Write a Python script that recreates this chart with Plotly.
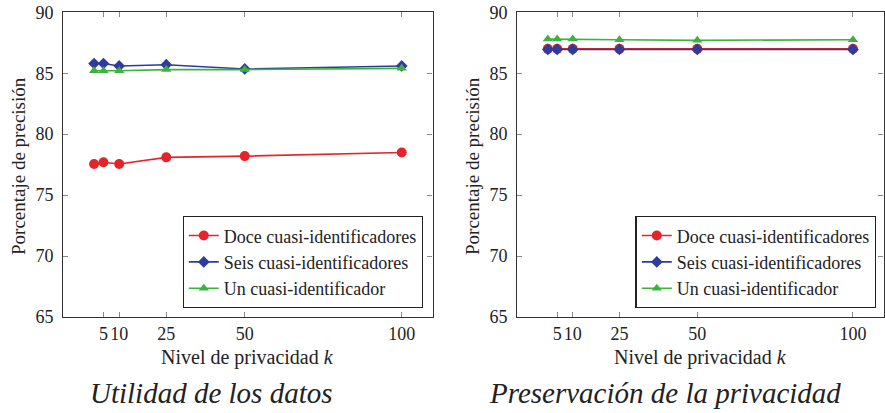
import plotly.graph_objects as go

# ---- data ----
k_levels = [2, 5, 10, 25, 50, 100]
x_tick_vals = [5, 10, 25, 50, 100]
x_tick_text = ["5", "10", "25", "50", "100"]
y_tick_vals = [65, 70, 75, 80, 85, 90]

series_names = ["Doce cuasi-identificadores", "Seis cuasi-identificadores", "Un cuasi-identificador"]

utilidad_doce = [77.55, 77.7, 77.55, 78.1, 78.2, 78.5]
utilidad_seis = [85.8, 85.8, 85.6, 85.7, 85.35, 85.6]
utilidad_un = [85.2, 85.2, 85.2, 85.3, 85.3, 85.4]

privacidad_doce = [87.0, 87.0, 87.0, 87.0, 87.0, 87.0]
privacidad_seis = [86.95, 86.95, 86.95, 86.95, 86.95, 86.95]
privacidad_un = [87.8, 87.8, 87.8, 87.75, 87.7, 87.75]

subtitles = ["Utilidad de los datos", "Preservación de la privacidad"]
x_title = "Nivel de privacidad <i>k</i>"
y_title = "Porcentaje de precisión"

# ---- style ----
FONT = "'Liberation Serif', 'Times New Roman', 'DejaVu Serif', serif"
colors = ["#e5242a", "#2e3c9e", "#3cb43c"]
symbols = ["circle", "diamond", "triangle-up"]
msizes = [10, 9, 9]

W, H = 885, 413
fig = go.Figure()

panels = [
    (utilidad_doce, utilidad_seis, utilidad_un),
    (privacidad_doce, privacidad_seis, privacidad_un),
]
x_domains = [[63.3 / W, 432.5 / W], [517.3 / W, 883.5 / W]]
y_domain = [1 - 317 / H, 1 - 12.3 / H]

for p, data in enumerate(panels):
    xa = "x" if p == 0 else "x2"
    ya = "y" if p == 0 else "y2"
    lg = "legend" if p == 0 else "legend2"
    for i, vals in enumerate(data):
        fig.add_trace(go.Scatter(
            x=k_levels, y=vals, mode="lines+markers", name=series_names[i],
            line=dict(color=colors[i], width=1.6),
            marker=dict(symbol=symbols[i], size=msizes[i], color=colors[i]),
            xaxis=xa, yaxis=ya, legend=lg,
        ))

axis_common = dict(
    showline=True, linecolor="#333333", linewidth=1.3, mirror="allticks",
    ticks="inside", ticklen=5, tickcolor="#888888", showgrid=False, zeroline=False,
    automargin=False,
    tickfont=dict(family=FONT, size=18, color="#222222"),
)

legend_common = dict(
    xanchor="right", yanchor="bottom",
    bordercolor="#222222", borderwidth=1.3, bgcolor="white",
    font=dict(family=FONT, size=18), tracegroupgap=0, itemwidth=30,
)

fig.update_layout(
    width=W, height=H, margin=dict(l=0, r=0, t=0, b=0, autoexpand=False),
    paper_bgcolor="white", plot_bgcolor="white",
    font=dict(family=FONT, color="#222222"),
    xaxis=dict(domain=x_domains[0], range=[-7.8, 109.8], tickvals=x_tick_vals,
               ticktext=x_tick_text, tickangle=0, anchor="y", ticklabelstandoff=0, **axis_common),
    yaxis=dict(domain=y_domain, range=[65, 90], tickvals=y_tick_vals, anchor="x",
               ticklabelstandoff=5, **axis_common),
    xaxis2=dict(domain=x_domains[1], range=[-7.8, 109.8], tickvals=x_tick_vals,
                ticktext=x_tick_text, tickangle=0, anchor="y2", ticklabelstandoff=0, **axis_common),
    yaxis2=dict(domain=y_domain, range=[65, 90], tickvals=y_tick_vals, anchor="x2",
                ticklabelstandoff=5, **axis_common),
    legend=dict(x=423.5 / W, y=1 - 308 / H, **legend_common),
    legend2=dict(x=876.5 / W, y=1 - 308 / H, **legend_common),
)

annotations = []
for p in range(2):
    cx = (x_domains[p][0] + x_domains[p][1]) / 2
    annotations.append(dict(text=x_title, x=cx, y=1 - 357 / H, xref="paper", yref="paper",
                            xanchor="center", yanchor="middle",
                            showarrow=False, font=dict(family=FONT, size=20)))
    annotations.append(dict(text="<i>" + subtitles[p] + "</i>", x=[211 / W, 665 / W][p],
                            y=1 - 393 / H, xref="paper", yref="paper", showarrow=False,
                            xanchor="center", yanchor="middle",
                            font=dict(family=FONT, size=29)))
    annotations.append(dict(text=y_title, x=[18 / W, 472 / W][p], y=1 - 166 / H,
                            xref="paper", yref="paper", showarrow=False, textangle=-90,
                            xanchor="center", yanchor="middle",
                            font=dict(family=FONT, size=19)))
fig.update_layout(annotations=annotations)

fig.write_html("out.html", config={"displayModeBar": False},
               post_script="document.body.style.margin='0';")
